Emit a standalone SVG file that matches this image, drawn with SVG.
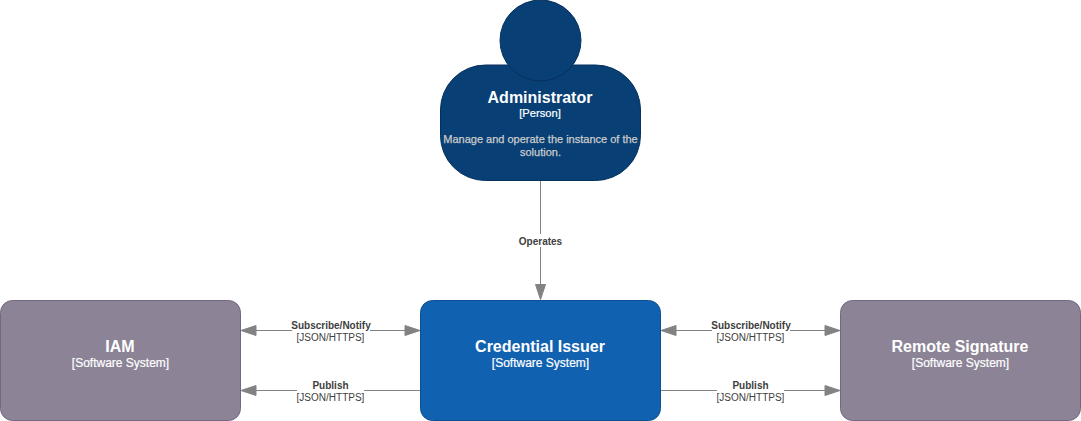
<svg xmlns="http://www.w3.org/2000/svg" width="1081" height="421" viewBox="0 0 1081 421">
<defs>
<style>
text{font-family:"Liberation Sans",Arial,Helvetica,sans-serif;text-anchor:middle}
.t{font-size:16px;font-weight:bold;fill:#fff}
.s{font-size:12px;fill:#fff;stroke:#fff;stroke-width:.2}
.s2{font-size:11.2px;fill:#fff;stroke:#fff;stroke-width:.2}
.d{font-size:11px;fill:#ccc;stroke:#ccc;stroke-width:.25}
.l{font-size:10px;font-weight:bold;fill:#404040}
.p{font-size:10px;fill:#404040}
.c{stroke:#828282;stroke-width:1;fill:none}
.a{fill:#828282;stroke:#828282}
.bg{fill:#fff}
.per{fill:#083F75;stroke:#06315C}
.sys{fill:#1061B0;stroke:#0D5091}
.ext{fill:#8C8496;stroke:#736782}
</style>
</defs>
<rect width="1081" height="421" fill="#fff"/>
<g id="connectors">
<path class="c" d="M540.500 180.500V285"/>
<path class="a" d="M540.500 299.500L535.500 284.500H545.500Z"/>
<rect class="bg" x="518" y="234" width="45" height="13"/>
<text class="l" x="540.500" y="245">Operates</text>

<path class="c" d="M256 330.500H405"/>
<path class="a" d="M241 330.500L256 325.500V335.500Z"/>
<path class="a" d="M420 330.500L405 325.500V335.500Z"/>
<rect class="bg" x="292" y="320" width="78" height="23"/>
<text class="l" x="331" y="329">Subscribe/Notify</text>
<text class="p" x="330.500" y="341">[JSON/HTTPS]</text>

<path class="c" d="M256 390.500H420"/>
<path class="a" d="M241 390.500L256 385.500V395.500Z"/>
<rect class="bg" x="297" y="380" width="67" height="23"/>
<text class="l" x="330.500" y="389">Publish</text>
<text class="p" x="330.500" y="401">[JSON/HTTPS]</text>

<path class="c" d="M676 330.500H825"/>
<path class="a" d="M661 330.500L676 325.500V335.500Z"/>
<path class="a" d="M840 330.500L825 325.500V335.500Z"/>
<rect class="bg" x="712" y="320" width="78" height="23"/>
<text class="l" x="751" y="329">Subscribe/Notify</text>
<text class="p" x="750.500" y="341">[JSON/HTTPS]</text>

<path class="c" d="M661 390.500H825"/>
<path class="a" d="M840 390.500L825 385.500V395.500Z"/>
<rect class="bg" x="717" y="380" width="67" height="23"/>
<text class="l" x="750.500" y="389">Publish</text>
<text class="p" x="750.500" y="401">[JSON/HTTPS]</text>
</g>
<g id="administrator">
<rect class="per" x="440.500" y="65" width="200" height="115.500" rx="45" ry="45"/>
<circle class="per" cx="540.500" cy="40.500" r="40.500"/>
<text class="t" x="540" y="103">Administrator</text>
<text class="s2" x="540" y="117">[Person]</text>
<text class="d" x="540.500" y="143">Manage and operate the instance of the</text>
<text class="d" x="540.500" y="156">solution.</text>
</g>
<g id="credential-issuer">
<rect class="sys" x="420.500" y="300.500" width="240" height="120" rx="12" ry="12"/>
<text class="t" x="540" y="352">Credential Issuer</text>
<text class="s" x="540.500" y="367">[Software System]</text>
</g>
<g id="iam">
<rect class="ext" x="0.500" y="300.500" width="240" height="120" rx="12" ry="12"/>
<text class="t" x="120" y="352">IAM</text>
<text class="s" x="120.500" y="367">[Software System]</text>
</g>
<g id="remote-signature">
<rect class="ext" x="840.500" y="300.500" width="240" height="120" rx="12" ry="12"/>
<text class="t" x="960" y="352">Remote Signature</text>
<text class="s" x="960.500" y="367">[Software System]</text>
</g>
</svg>
